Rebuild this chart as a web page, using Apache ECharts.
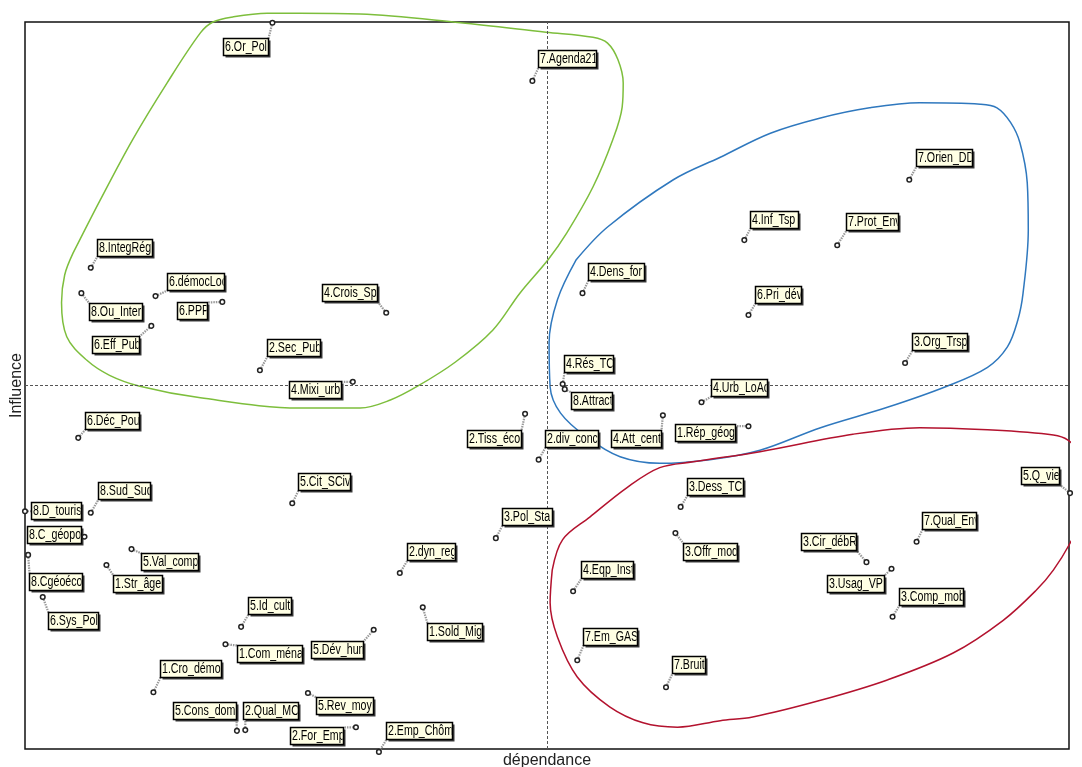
<!DOCTYPE html>
<html><head><meta charset="utf-8">
<script src="https://cdn.jsdelivr.net/npm/echarts@6/dist/echarts.min.js"></script>
<style>html,body{margin:0;padding:0;background:#fff}#c{width:1082px;height:767px}</style>
</head><body><div id="c"></div>
<script>
// ---- data (axis units 0..100) ----
const names = ['6.Or_Pol','7.Agenda21','7.Orien_DD','4.Inf_Tsp','7.Prot_Env','8.IntegRég','6.démocLoc','6.PPP','8.Ou_Inter','6.Eff_Pub',
 '2.Sec_Pub','4.Mixi_urb','4.Crois_Sp','6.Déc_Pou','5.Cit_SCiv','8.Sud_Sud','8.D_touris','8.C_géopol','8.Cgéoéco','5.Val_comp',
 '1.Str_âge','6.Sys_Pol','5.Id_cult','1.Com_ména','5.Dév_hum','1.Cro_démo','5.Cons_dom','2.Qual_MO','5.Rev_moy','2.For_Emp',
 '3.Pol_Sta','2.dyn_reg','1.Sold_Mig','2.Emp_Chôm','4.Eqp_Inst','7.Em_GAS','7.Bruit','3.Offr_mod','3.Dess_TC','1.Rép_géog',
 '4.Att_cent','3.Cir_débR','4.Dens_for','4.Rés_TC','8.Attract','2.Tiss_éco','2.div_conc','4.Urb_LoAc','6.Pri_dév','3.Org_Trsp',
 '5.Q_vie','7.Qual_Env','3.Usag_VP','3.Comp_mob'];
const dependance = [23.7,48.6,84.7,68.9,77.8,6.3,12.5,18.9,5.4,12.1,
 22.5,31.4,34.6,5.1,25.6,6.3,0.0,5.7,0.3,10.2,
 7.8,1.7,20.7,19.2,33.4,12.3,20.3,21.1,27.1,31.7,
 45.1,35.9,38.1,33.9,52.5,52.9,61.4,62.3,62.8,69.3,
 61.1,80.6,53.4,51.5,51.7,47.9,49.2,64.8,69.3,84.3,
 100.1,85.4,83.0,83.1];
const influence = [99.9,91.9,78.3,70.0,69.3,66.2,62.3,61.5,62.7,58.2,
 52.1,50.5,60.0,42.8,33.8,32.5,32.7,29.2,26.7,27.5,
 25.3,20.9,16.8,14.4,16.4,7.8,2.5,2.6,7.7,3.0,
 29.0,24.2,19.5,-0.4,21.7,12.2,8.5,29.7,33.3,44.4,
 45.9,25.7,62.7,50.2,49.5,46.1,39.8,47.7,59.7,53.1,
 35.2,28.5,24.8,18.2];
const meanDep = 50, meanInf = 50;

// enclosing curves (axis units)
const greenDep = [4.6,7.2,10.3,13.6,16.8,18.0,19.9,23.2,26.3,32.1,41.7,49.9,54.4,55.8,56.8,57.3,57.2,56.3,54.4,51.9,50.1,47.4,44.8,41.2,37.6,35.0,32.1,26.3,16.8,11.0,8.1,5.9,4.0,3.5,3.8,4.6];
const greenInf = [68.2,75.5,83.8,91.6,98.5,100.0,100.7,101.2,101.2,101.1,99.9,98.6,97.9,97.1,94.8,91.6,88.3,83.8,77.3,71.0,67.3,62.7,57.6,53.2,49.9,48.0,46.9,46.9,48.3,49.9,51.4,53.5,56.7,61.4,65.2,68.2];
const blueDep = [52.8,55.8,62.1,66.6,71.4,76.2,80.9,85.7,91.5,93.1,94.4,95.3,96.0,96.1,95.6,95.1,94.1,92.2,88.3,82.6,76.2,70.4,65.6,60.8,57.0,53.8,51.3,50.3,50.2,51.0,52.8];
const blueInf = [67.3,71.8,78.3,81.4,84.7,86.8,88.2,88.9,88.7,88.2,86.2,83.4,77.9,71.4,62.7,59.0,55.3,52.5,49.9,47.0,44.2,41.1,39.8,39.3,40.2,42.9,46.2,49.8,55.9,61.8,67.3];
const redDep = [50.5,51.5,54.1,57.7,60.8,64.0,70.4,79.3,85.7,92.2,98.5,99.9,100.8,101.3,101.1,100.1,98.5,96.9,93.7,88.9,82.6,76.2,69.7,66.6,62.5,59.2,56.0,52.9,51.0,50.3,50.5];
const redInf = [24.6,28.8,31.9,36.0,38.7,39.5,40.9,43.3,44.2,43.9,43.2,42.5,40.9,37.0,31.5,28.3,24.6,21.9,17.7,13.2,9.5,6.7,4.4,3.9,3.0,3.6,5.8,9.9,15.4,20.1,24.6];

// ---- label layout (pixel offsets of each label box from its point, box widths) ----
const labelDx = [-49,6,7,6,9,6,11,-45,8,-59,7,-64,-64,7,6,7,6,-58,1,10,7,5,7,12,-63,7,-64,-2,8,-66,6,7,4,7,8,6,6,8,6,-73,-52,-65,6,1,6,-58,6,9,7,7,-49,5,-65,6];
const labelDy = [15,-31,-31,-29,-32,-29,-23,0,10,10,-31,-1,-29,-26,-30,-31,-9,-11,18,4,10,15,-30,1,11,-32,-29,-28,4,0,-30,-30,16,-30,-30,-32,-31,10,-29,-2,15,-29,-30,-29,3,16,-30,-23,-29,-30,-26,-30,6,-29];
const labelW = [45,58,56,48,52,55,57,30,53,47,53,52,55,54,52,52,50,54,53,57,49,50,43,65,52,61,63,55,57,53,50,48,55,66,52,54,33,54,56,60,50,55,56,49,41,54,53,56,46,55,38,54,57,64];
const BOX_H = 17;
const FONT = '14px "Liberation Sans", Arial, sans-serif';

const zip = (a, b) => a.map((v, i) => [v, b[i]]);

function renderItem(params, api) {
  const i = params.dataIndex;
  const p = api.coord([api.value(0), api.value(1)]);
  const bx = Math.round(p[0] + labelDx[i]) + 0.5;
  const by = Math.round(p[1] + labelDy[i]) + 0.5;
  const w = labelW[i], h = BOX_H;
  const cx = Math.min(Math.max(p[0], bx), bx + w);
  const cy = Math.min(Math.max(p[1], by), by + h);
  return {
    type: 'group',
    children: [
      { type: 'line', shape: { x1: p[0], y1: p[1], x2: cx, y2: cy },
        style: { stroke: '#999', lineWidth: 2.2, lineDash: [1.5, 1] } },
      { type: 'rect', shape: { x: bx + 2, y: by + 2, width: w, height: h }, style: { fill: '#3c3c3c' } },
      { type: 'rect', shape: { x: bx, y: by, width: w, height: h }, style: { fill: '#FFFFE4', stroke: '#000', lineWidth: 1.5 } },
      { type: 'group',
        clipPath: { type: 'rect', shape: { x: bx + 1, y: by, width: w - 2, height: h } },
        children: [
          { type: 'text', x: bx + 1.5, y: by + h / 2 + 0.5, scaleX: 0.76,
            style: { text: names[i], font: FONT, fill: '#000', align: 'left', verticalAlign: 'middle' } }
        ] },
      { type: 'circle', shape: { cx: p[0], cy: p[1], r: 2.3 }, style: { fill: '#fff', stroke: '#222', lineWidth: 1.5 } }
    ]
  };
}

const curve = (data, color) => ({
  type: 'line', data, smooth: 0.35, symbol: 'none', clip: false, silent: true,
  lineStyle: { color, width: 1.5 }, z: 3
});

const chart = echarts.init(document.getElementById('c'), null, { renderer: 'canvas' });
chart.setOption({
  animation: false,
  backgroundColor: '#fff',
  grid: { left: 25, right: 13, top: 22, bottom: 18, show: true, borderColor: '#111', borderWidth: 1.5,
          backgroundColor: 'transparent', containLabel: false, outerBoundsMode: 'none' },
  xAxis: {
    type: 'value', min: 0, max: 100,
    name: 'dépendance', nameLocation: 'middle', nameGap: 4,
    nameTextStyle: { fontSize: 16, fontFamily: '"Liberation Sans", Arial, sans-serif', color: '#222' },
    axisLine: { show: false }, axisTick: { show: false }, axisLabel: { show: false }, splitLine: { show: false }
  },
  yAxis: {
    type: 'value', min: 0, max: 100,
    name: 'Influence', nameLocation: 'middle', nameGap: 0,
    nameTextStyle: { fontSize: 16, fontFamily: '"Liberation Sans", Arial, sans-serif', color: '#222' },
    axisLine: { show: false }, axisTick: { show: false }, axisLabel: { show: false }, splitLine: { show: false }
  },
  series: [
    { type: 'line', data: [], silent: true, z: 2,
      markLine: { silent: true, symbol: 'none', label: { show: false },
        lineStyle: { type: [3, 2], color: '#555', width: 1 },
        data: [{ xAxis: meanDep }, { yAxis: meanInf }] } },
    curve(zip(greenDep, greenInf), '#7DBE3C'),
    curve(zip(blueDep, blueInf), '#2F78BE'),
    curve(zip(redDep, redInf), '#B3122E'),
    { type: 'custom', renderItem, data: zip(dependance, influence), z: 5, silent: true }
  ]
});
</script>
</body></html>
